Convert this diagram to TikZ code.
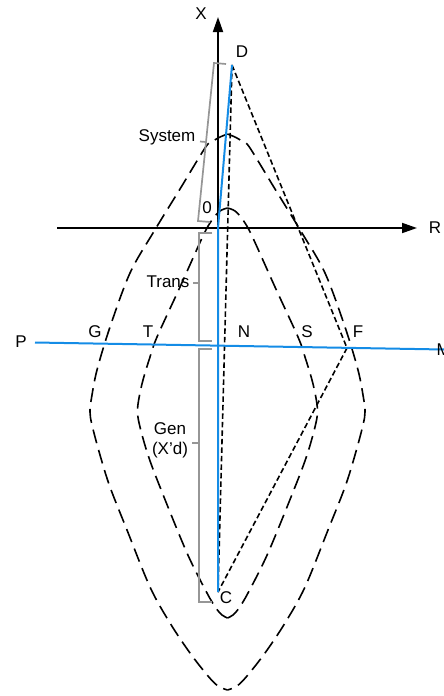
\documentclass[tikz,border=0pt]{standalone}
\usepackage{fontspec}
\setmainfont{Liberation Sans}
\usetikzlibrary{arrows.meta}
\definecolor{lineblue}{RGB}{20,140,230}
\definecolor{brgray}{RGB}{150,150,150}
\begin{document}
\begin{tikzpicture}[x=1pt,y=-1pt,
  axis/.style={line width=1.8pt, -{Triangle[length=15pt,width=10pt]}},
  bluel/.style={draw=lineblue, line width=2pt},
  lens/.style={line width=1.6pt, dash pattern=on 14pt off 7pt},
  sdash/.style={line width=1.6pt, dash pattern=on 5.5pt off 3pt},
  brk/.style={draw=brgray, line width=1.7pt},
  lbl/.style={font=\fontsize{17}{20}\selectfont, inner sep=0pt}]
\useasboundingbox (0,0) rectangle (444,696);
% key points
\coordinate (O) at (218,228);
\coordinate (D) at (232,65);
\coordinate (C) at (218,592);
\coordinate (F) at (347,348);
\coordinate (Xtop) at (218,17);
\coordinate (Rl) at (57,228);
\coordinate (Rr) at (417,228);
\coordinate (Pl) at (35,342.5);
\coordinate (Mr) at (444,349.5);
% lenses (left halves, mirrored for right halves)
\foreach \s/\dx in {1/0,-1/455}{
  \begin{scope}[shift={(\dx,0)}, xscale=\s]
  \draw[lens] plot[smooth, tension=0.55] coordinates {
    (227.5,134) (219,137.5) (211,142.5) (205,148) (180,189) (153,233) (130,273)
    (110,327) (97,370) (91.5,398) (90,412) (92,425) (100,455) (110,487)
    (127,530) (150,587) (170,623) (190,653) (208,676) (218,686) (227.5,690)};
  \draw[lens] plot[smooth, tension=0.55] coordinates {
    (227.5,208) (220,211) (212,220) (203,236) (180,287) (157,337) (150,357)
    (143,380) (139,398) (137.5,412) (140,427) (148,455) (160,487) (187,553)
    (207,593) (216,608) (222,615) (227.5,618)};
  \end{scope}
}
% short dashed lines
\draw[sdash] (D) -- (C);
\draw[sdash] (D) -- (F);
\draw[sdash] (F) -- (C);
% axes
\draw[axis] (Rl) -- (Rr);
\draw[axis] (O) -- (Xtop);
% blue lines
\draw[bluel] (Pl) -- (Mr);
\draw[bluel] (C) -- (O) -- (D);
% brackets
\draw[brk] (226,64) -- (214,63) -- (198,221) -- (210,222);
\draw[brk] (206,142) -- (200,141.5);
\draw[brk] (212,233) -- (199,233) -- (199,341) -- (212,341);
\draw[brk] (199,283) -- (193,283);
\draw[brk] (212,349) -- (199,349) -- (199,602) -- (212,602);
\draw[brk] (199,443) -- (192,443);
% labels
\node[lbl] (lX) at (201,14) {X};
\node[lbl] (lR) at (435,228) {R};
\node[lbl] (lD) at (242,52) {D};
\node[lbl] (l0) at (207,208) {0};
\node[lbl] (lC) at (226,598) {C};
\node[lbl] (lP) at (21,342) {P};
\node[lbl, anchor=west] (lM) at (436.5,350) {M};
\node[lbl] (lG) at (95,332) {G};
\node[lbl] (lT) at (148,332) {T};
\node[lbl] (lN) at (244,332) {N};
\node[lbl] (lS) at (307,332) {S};
\node[lbl] (lF) at (358,332) {F};
\node[lbl] (lSys) at (167,137) {System};
\node[lbl] (lTr) at (168,282) {Trans};
\node[lbl, align=center] (lGen) at (170,440) {Gen\\(X’d)};
\end{tikzpicture}
\end{document}
